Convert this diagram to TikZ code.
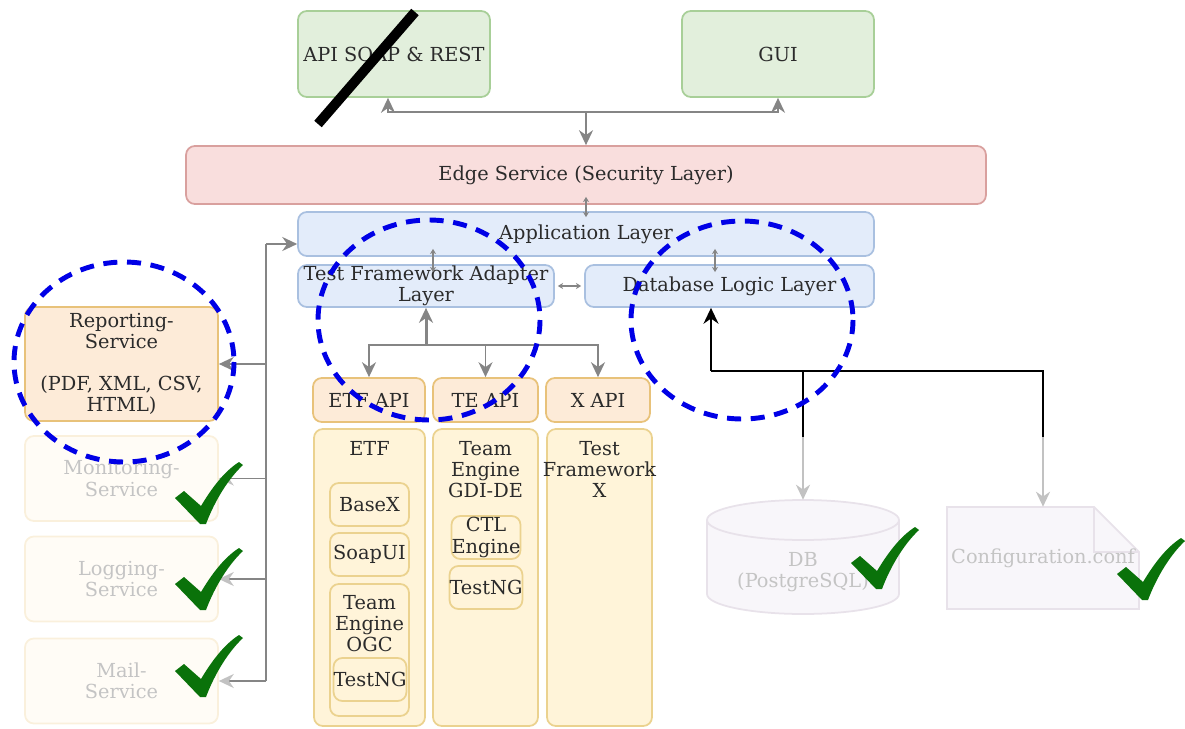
\documentclass[tikz,border=0pt]{standalone}
\usepackage{fontspec}
\setmainfont{DejaVu Serif}
\usetikzlibrary{arrows.meta,calc}

\definecolor{greenfill}{HTML}{E2EFDC}
\definecolor{greenline}{HTML}{A8CF98}
\definecolor{redfill}{HTML}{F9DEDD}
\definecolor{redline}{HTML}{D9A09E}
\definecolor{bluefill}{HTML}{E3ECFA}
\definecolor{blueline}{HTML}{A9C0E0}
\definecolor{orangefill}{HTML}{FDEBD8}
\definecolor{orangeline}{HTML}{E8C27A}
\definecolor{yellowfill}{HTML}{FFF4D9}
\definecolor{yellowline}{HTML}{EBD28F}
\definecolor{fadedfill}{HTML}{FFFCF6}
\definecolor{fadedline}{HTML}{FAF0DC}
\definecolor{fadedtext}{HTML}{C4C4C4}
\definecolor{dbfill}{HTML}{F8F6FA}
\definecolor{dbline}{HTML}{E8E2EA}
\definecolor{linkgray}{HTML}{858585}
\definecolor{linklight}{HTML}{C2C2C2}
\definecolor{txtdark}{HTML}{2B2B2B}
\definecolor{markblue}{HTML}{0000E6}
\definecolor{tickgreen}{HTML}{0A720A}

\begin{document}
\begin{tikzpicture}[x=0.02cm, y=-0.02cm, >={Stealth[length=8.5pt,width=8pt]},
    every node/.style={font=\fontsize{11}{12}\selectfont, align=center, inner sep=0pt, text=txtdark},
    box/.style={draw, rounded corners=5pt, line width=1pt},
    greenbox/.style={box, fill=greenfill, draw=greenline},
    redbox/.style={box, fill=redfill, draw=redline},
    bluebox/.style={box, fill=bluefill, draw=blueline},
    orangebox/.style={box, fill=orangefill, draw=orangeline},
    stackbox/.style={box, fill=yellowfill, draw=yellowline},
    fadedbox/.style={box, fill=fadedfill, draw=fadedline, text=fadedtext},
    link/.style={draw=linkgray, line width=1.1pt},
    blacklink/.style={draw=black, line width=1.4pt},
    fadedlink/.style={draw=linklight, line width=1.1pt},
    fadedtip/.style={-{Stealth[length=8.5pt,width=8pt,color=linklight]}},
    tinylink/.style={draw=linkgray, line width=0.7pt, {Stealth[length=3pt,width=3.5pt]}-{Stealth[length=3pt,width=3.5pt]}},
    focusring/.style={draw=markblue, line width=2.8pt, dash pattern=on 8pt off 5.5pt},
    tick/.pic={
      \fill[tickgreen] (0,36) -- (9,29) -- (26,44) .. controls (38,24) and (50,9) .. (64,0)
        -- (68,3) .. controls (54,16) and (40,38) .. (31,62) -- (25,62) -- cycle;
    }]
    \useasboundingbox (0,0) rectangle (1185,729);

    % clients and layers
    \node[greenbox, minimum width=3.84cm, minimum height=1.72cm] (api) at (394,54) {API SOAP \& REST};
    \node[greenbox, minimum width=3.84cm, minimum height=1.72cm] (gui) at (778,54) {GUI};
    \node[redbox, minimum width=16cm, minimum height=1.16cm] (edge) at (586,175) {Edge Service (Security Layer)};
    \node[bluebox, minimum width=11.52cm, minimum height=0.88cm] (app) at (586,234) {Application Layer};
    \node[bluebox, minimum width=5.12cm, minimum height=0.84cm] (tfa) at (426,286) {Test Framework Adapter\\Layer};
    \node[bluebox, minimum width=5.78cm, minimum height=0.84cm] (dbl) at (729.5,286) {Database Logic Layer};

    % services
    \node[orangebox, minimum width=3.86cm, minimum height=2.28cm] (report) at (121.5,364) {Reporting-\\Service\\[12pt](PDF, XML, CSV,\\HTML)};
    \node[fadedbox, minimum width=3.86cm, minimum height=1.70cm] (monitor) at (121.5,478.5) {Monitoring-\\Service};
    \node[fadedbox, minimum width=3.86cm, minimum height=1.70cm] (logging) at (121.5,579) {Logging-\\Service};
    \node[fadedbox, minimum width=3.86cm, minimum height=1.70cm] (mail) at (121.5,681) {Mail-\\Service};

    % test frameworks
    \node[orangebox, minimum width=2.24cm, minimum height=0.88cm] (etfapi) at (369,400) {ETF API};
    \node[orangebox, minimum width=2.10cm, minimum height=0.88cm] (teapi) at (485.5,400) {TE API};
    \node[orangebox, minimum width=2.08cm, minimum height=0.88cm] (xapi) at (598,400) {X API};
    \node[stackbox, minimum width=2.22cm, minimum height=5.94cm] (etf) at (369.5,577.5) {};
    \node[stackbox, minimum width=2.10cm, minimum height=5.94cm] (te) at (485.5,577.5) {};
    \node[stackbox, minimum width=2.10cm, minimum height=5.94cm] (xfw) at (599.5,577.5) {};
    \node[anchor=north] (etftitle) at (369.5,441) {ETF};
    \node[anchor=north] (tetitle) at (485.5,441) {Team\\Engine\\GDI-DE};
    \node[anchor=north] (xtitle) at (599.5,441) {Test\\Framework\\X};
    \node[stackbox, minimum width=1.58cm, minimum height=0.86cm] (basex) at (369.5,504.5) {BaseX};
    \node[stackbox, minimum width=1.58cm, minimum height=0.86cm] (soapui) at (369.5,554.5) {SoapUI};
    \node[stackbox, minimum width=1.58cm, minimum height=2.64cm] (ogc) at (369.5,650) {};
    \node[anchor=north] (ogctitle) at (369.5,595) {Team\\Engine\\OGC};
    \node[stackbox, minimum width=1.28cm, minimum height=0.86cm] (ngetf) at (370,679.5) {TestNG};
    \node[stackbox, minimum width=1.28cm, minimum height=0.86cm] (ctl) at (486,537.5) {CTL\\Engine};
    \node[stackbox, minimum width=1.28cm, minimum height=0.86cm] (ngte) at (486,587.5) {TestNG};

    % storage
    \filldraw[fill=dbfill, draw=dbline, line width=1pt] (707,520) -- (707,594)
      arc[start angle=180, end angle=0, x radius=96, y radius=20] -- (899,520)
      arc[start angle=0, end angle=-180, x radius=96, y radius=20] -- cycle;
    \draw[dbline, line width=1pt] (707,520) arc[start angle=180, end angle=0, x radius=96, y radius=20];
    \node[minimum width=3.84cm, minimum height=2.28cm] (db) at (803,557) {};
    \node[text=fadedtext] (dbtext) at (803,572) {DB\\(PostgreSQL)};
    \filldraw[fill=dbfill, draw=dbline, line width=1pt] (947,507) -- (1094,507) -- (1139,552) -- (1139,609) -- (947,609) -- cycle;
    \draw[dbline, line width=1pt] (1094,507) -- (1094,552) -- (1139,552);
    \node[minimum width=3.84cm, minimum height=2.04cm, text=fadedtext] (conf) at (1043,558) {Configuration.conf};

    % connectors
    \coordinate (topj) at (586,112);
    \draw[link, ->] (topj) -| ($(api.south)+(-6,0)$);
    \draw[link, ->] (topj) -| (gui.south);
    \draw[link, ->] (topj) -- (edge.north);
    \draw[tinylink] ($(edge.south)+(0,-8)$) -- ($(app.north)+(0,6)$);
    \draw[tinylink] ($(tfa.north |- app.south)+(7,-8)$) -- ($(tfa.north)+(7,8)$);
    \draw[tinylink] ($(dbl.north |- app.south)+(-14.5,-8)$) -- ($(dbl.north)+(-14.5,8)$);
    \draw[tinylink] ($(tfa.east)+(3,0)$) -- ($(dbl.west)+(-3,0)$);

    \coordinate (lv) at (266,244);
    \draw[link, ->] (lv) -- (lv -| app.west);
    \draw[link] (lv) -- (lv |- mail.east);
    \draw[link, ->] (lv |- report.east) -- (report.east);
    \draw[link, fadedtip] (lv |- monitor.east) -- (monitor.east);
    \draw[link, fadedtip] (lv |- logging.east) -- (logging.east);
    \draw[link, fadedtip] (lv |- mail.east) -- (mail.east);

    \coordinate (tj) at (426,345);
    \draw[link, line width=1.7pt, ->] (tj) -- (tfa.south);
    \draw[link, ->] (tj) -| (etfapi.north);
    \draw[link, ->] (tj) -| (teapi.north);
    \draw[link, ->] (tj) -| (xapi.north);

    \coordinate (dj) at (711,371);
    \coordinate (dbk) at (803,437);
    \coordinate (cfk) at (1043,437);
    \draw[blacklink, -{Stealth[length=9pt,width=8.5pt]}] (dj) -- (dj |- dbl.south);
    \draw[blacklink] (dj) -| (cfk);
    \draw[blacklink] (dbk |- dj) -- (dbk);
    \draw[fadedlink, ->] (dbk) -- (db.north);
    \draw[fadedlink, ->] (cfk) -- (conf.north);

    % marks
    \pic at (175,462) {tick};
    \pic at (175,548) {tick};
    \pic at (175,635) {tick};
    \pic at (851,527) {tick};
    \pic at (1117,538) {tick};
    \draw[focusring] (124,362) ellipse [x radius=110, y radius=100];
    \draw[focusring] (429,320) ellipse [x radius=111, y radius=100];
    \draw[focusring] (742,320) ellipse [x radius=111, y radius=99];
    \draw[line width=5.6pt] (318,124) -- (415,12);
\end{tikzpicture}
\end{document}
